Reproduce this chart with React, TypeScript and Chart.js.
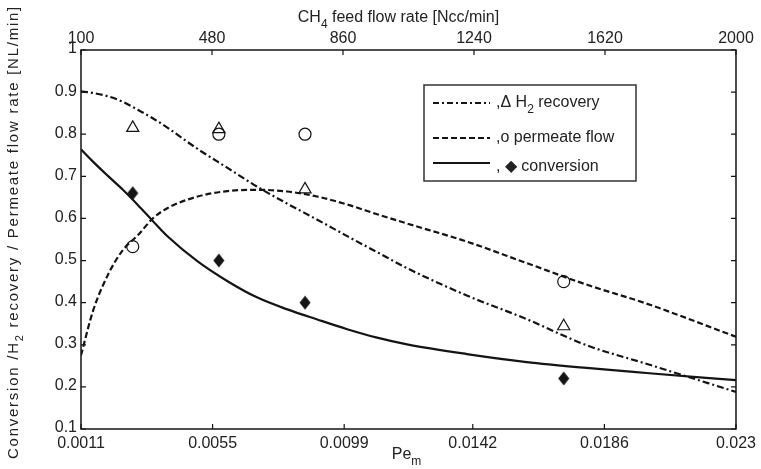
import React, { useEffect, useRef } from "react";
import { Chart, registerables } from "chart.js";

Chart.register(...registerables);

// ---- data ----
const peGrid = [0.0011, 0.0015, 0.002, 0.0025, 0.003, 0.0035, 0.004, 0.005, 0.006, 0.007, 0.008, 0.009, 0.010, 0.011, 0.012, 0.014, 0.016, 0.018, 0.020, 0.023];
const h2RecoveryModel = [0.902, 0.898, 0.89, 0.877, 0.858, 0.838, 0.815, 0.765, 0.72, 0.675, 0.635, 0.597, 0.558, 0.52, 0.482, 0.417, 0.361, 0.299, 0.255, 0.188];
const permeateModel = [0.275, 0.38, 0.466, 0.525, 0.56, 0.6, 0.625, 0.652, 0.665, 0.668, 0.664, 0.652, 0.633, 0.61, 0.588, 0.545, 0.494, 0.443, 0.398, 0.319];
const conversionModel = [0.764, 0.735, 0.701, 0.668, 0.632, 0.594, 0.557, 0.498, 0.451, 0.412, 0.384, 0.36, 0.337, 0.317, 0.301, 0.278, 0.259, 0.245, 0.233, 0.216];

const peExp = [0.00283, 0.00571, 0.00859, 0.01724];
const h2RecoveryExp = [0.815, 0.812, 0.669, 0.344];
const permeateExp = [0.533, 0.8, 0.8, 0.45];
const conversionExp = [0.66, 0.5, 0.4, 0.22];

const bottomTicks = [0.0011, 0.0055, 0.0099, 0.0142, 0.0186, 0.023];
const bottomTickLabels = ["0.0011", "0.0055", "0.0099", "0.0142", "0.0186", "0.023"];
const topTicks = [100, 480, 860, 1240, 1620, 2000];
const topTickLabels = ["100", "480", "860", "1240", "1620", "2000"];
const yTicks = [0.1, 0.2, 0.3, 0.4, 0.5, 0.6, 0.7, 0.8, 0.9, 1];
const yTickLabels = ["0.1", "0.2", "0.3", "0.4", "0.5", "0.6", "0.7", "0.8", "0.9", "1"];

type Seg = { t: string; sub?: boolean };
const topTitle: Seg[] = [{ t: "CH" }, { t: "4", sub: true }, { t: " feed flow rate [Ncc/min]" }];
const bottomTitle: Seg[] = [{ t: "Pe" }, { t: "m", sub: true }];
const yTitle: Seg[] = [{ t: "Conversion /H" }, { t: "2", sub: true }, { t: " recovery / Permeate flow rate [NL/min]" }];
const legendEntries: Seg[][] = [
  [{ t: ",\u0394 H" }, { t: "2", sub: true }, { t: " recovery" }],
  [{ t: ",o permeate flow" }],
  [{ t: ", \u25C6 conversion" }],
];
const legendDashes: number[][] = [[6, 3, 2, 3], [6, 3], []];

const INK = "#141414";
const TXT = "#222";
const FONT = "Liberation Sans, Arial, sans-serif";

function richWidth(ctx: CanvasRenderingContext2D, segs: Seg[], size: number) {
  let w = 0;
  for (const s of segs) {
    ctx.font = `${s.sub ? Math.round(size * 0.75) : size}px ${FONT}`;
    w += ctx.measureText(s.t).width;
  }
  return w;
}

function drawRich(ctx: CanvasRenderingContext2D, segs: Seg[], x: number, y: number, size: number, align: "left" | "center") {
  const w = richWidth(ctx, segs, size);
  let cx = align === "center" ? x - w / 2 : x;
  ctx.textBaseline = "middle";
  ctx.textAlign = "left";
  for (const s of segs) {
    const sz = s.sub ? Math.round(size * 0.75) : size;
    ctx.font = `${sz}px ${FONT}`;
    ctx.fillText(s.t, cx, s.sub ? y + size * 0.4 : y);
    cx += ctx.measureText(s.t).width;
  }
}

function makeDiamond() {
  const c = document.createElement("canvas");
  c.width = 12;
  c.height = 15;
  const g = c.getContext("2d")!;
  g.fillStyle = INK;
  g.beginPath();
  g.moveTo(6, 0.5);
  g.lineTo(11.5, 7.5);
  g.lineTo(6, 14.5);
  g.lineTo(0.5, 7.5);
  g.closePath();
  g.fill();
  return c;
}

const framePlugin = {
  id: "frame",
  afterDraw(chart: any) {
    const ctx: CanvasRenderingContext2D = chart.ctx;
    const a = chart.chartArea;
    const xs = chart.scales.x;
    const x2 = chart.scales.x2;
    const ys = chart.scales.y;
    ctx.save();
    ctx.strokeStyle = INK;
    ctx.lineWidth = 1.5;
    ctx.setLineDash([]);
    ctx.strokeRect(a.left, a.top, a.right - a.left, a.bottom - a.top);
    const tl = 5;
    ctx.lineWidth = 1.2;
    ctx.beginPath();
    bottomTicks.forEach((v) => {
      const px = xs.getPixelForValue(v);
      ctx.moveTo(px, a.bottom);
      ctx.lineTo(px, a.bottom - tl);
    });
    topTicks.forEach((v) => {
      const px = x2.getPixelForValue(v);
      ctx.moveTo(px, a.top);
      ctx.lineTo(px, a.top + tl);
    });
    yTicks.forEach((v) => {
      const py = ys.getPixelForValue(v);
      ctx.moveTo(a.left, py);
      ctx.lineTo(a.left + tl, py);
      ctx.moveTo(a.right, py);
      ctx.lineTo(a.right - tl, py);
    });
    ctx.stroke();

    // titles
    ctx.fillStyle = TXT;
    const cxm = (a.left + a.right) / 2;
    drawRich(ctx, topTitle, cxm - 10, 18, 16, "center");
    drawRich(ctx, bottomTitle, cxm - 2, 455, 16, "center");
    ctx.save();
    ctx.translate(14, 232);
    ctx.rotate(-Math.PI / 2);
    (ctx as any).letterSpacing = "1.75px";
    drawRich(ctx, yTitle, 0, 0, 15, "center");
    ctx.restore();

    // legend
    const bx = 424, by = 85, bw = 212, bh = 96;
    ctx.fillStyle = "#fff";
    ctx.fillRect(bx, by, bw, bh);
    ctx.strokeStyle = "#333";
    ctx.lineWidth = 1.5;
    ctx.strokeRect(bx, by, bw, bh);
    const rows = [103, 138, 163];
    legendEntries.forEach((segs, i) => {
      ctx.strokeStyle = INK;
      ctx.lineWidth = 2.2;
      ctx.setLineDash(legendDashes[i]);
      ctx.beginPath();
      ctx.moveTo(433, rows[i]);
      ctx.lineTo(490, rows[i]);
      ctx.stroke();
      ctx.setLineDash([]);
      ctx.fillStyle = TXT;
      drawRich(ctx, segs, 496, rows[i] + (i === 2 ? 4 : 0), 16, "left");
    });
    ctx.restore();
  },
};

function xy(xv: number[], yv: number[]) {
  return xv.map((x, i) => ({ x, y: yv[i] }));
}

export default function App() {
  const ref = useRef<HTMLCanvasElement | null>(null);
  useEffect(() => {
    document.body.style.margin = "0";
    const canvas = ref.current!;
    const tickFont = { family: FONT, size: 16 };
    const noGrid = { display: false, drawTicks: false, tickLength: 0 };
    const line = (data: any, dash: number[]) => ({
      type: "line",
      data,
      xAxisID: "x",
      yAxisID: "y",
      borderColor: INK,
      borderWidth: 2.2,
      borderDash: dash,
      pointRadius: 0,
      fill: false,
      cubicInterpolationMode: "monotone",
    });
    const pts = (data: any, style: any, filled: boolean, r: number) => ({
      type: "scatter",
      data,
      xAxisID: "x",
      yAxisID: "y",
      showLine: false,
      pointStyle: style,
      pointRadius: r,
      pointBorderColor: INK,
      pointBorderWidth: 1.2,
      pointBackgroundColor: filled ? INK : "rgba(255,255,255,0)",
    });
    const chart = new Chart(canvas, {
      type: "line",
      data: {
        datasets: [
          line(xy(peGrid, h2RecoveryModel), [7, 3, 2, 3]),
          line(xy(peGrid, permeateModel), [6, 3]),
          line(xy(peGrid, conversionModel), []),
          pts(xy(peExp, h2RecoveryExp), "triangle", false, 7),
          pts(xy(peExp, permeateExp), "circle", false, 6),
          pts(xy(peExp, conversionExp), makeDiamond(), true, 6),
        ] as any,
      },
      options: {
        animation: false,
        responsive: false,
        devicePixelRatio: 1,
        layout: { padding: { left: 0, right: 23, top: 0, bottom: 0 } },
        plugins: { legend: { display: false }, tooltip: { enabled: false } },
        scales: {
          x: {
            type: "linear",
            position: "bottom",
            min: 0.0011,
            max: 0.023,
            grid: noGrid,
            border: { display: false },
            afterBuildTicks: (s: any) => { s.ticks = bottomTicks.map((v) => ({ value: v })); },
            afterFit: (s: any) => { s.height = 40; },
            ticks: {
              autoSkip: false,
              maxRotation: 0,
              padding: 5,
              color: TXT,
              font: tickFont,
              callback: (_v: any, i: number) => bottomTickLabels[i],
            },
          },
          x2: {
            type: "linear",
            position: "top",
            min: 100,
            max: 2000,
            grid: noGrid,
            border: { display: false },
            afterBuildTicks: (s: any) => { s.ticks = topTicks.map((v) => ({ value: v })); },
            afterFit: (s: any) => { s.height = 50; },
            ticks: {
              autoSkip: false,
              maxRotation: 0,
              padding: 2,
              color: TXT,
              font: tickFont,
              callback: (_v: any, i: number) => topTickLabels[i],
            },
          },
          y: {
            type: "linear",
            position: "left",
            min: 0.1,
            max: 1,
            grid: noGrid,
            border: { display: false },
            afterBuildTicks: (s: any) => { s.ticks = yTicks.map((v) => ({ value: v })); },
            afterFit: (s: any) => { s.width = 81; },
            ticks: {
              autoSkip: false,
              padding: 4,
              labelOffset: -1,
              color: TXT,
              font: tickFont,
              callback: (_v: any, i: number) => yTickLabels[i],
            },
          },
        },
      } as any,
      plugins: [framePlugin],
    });
    return () => chart.destroy();
  }, []);
  return (
    <div style={{ width: 761, height: 469, background: "#fff" }}>
      <canvas ref={ref} width={761} height={469} style={{ display: "block" }} />
    </div>
  );
}
